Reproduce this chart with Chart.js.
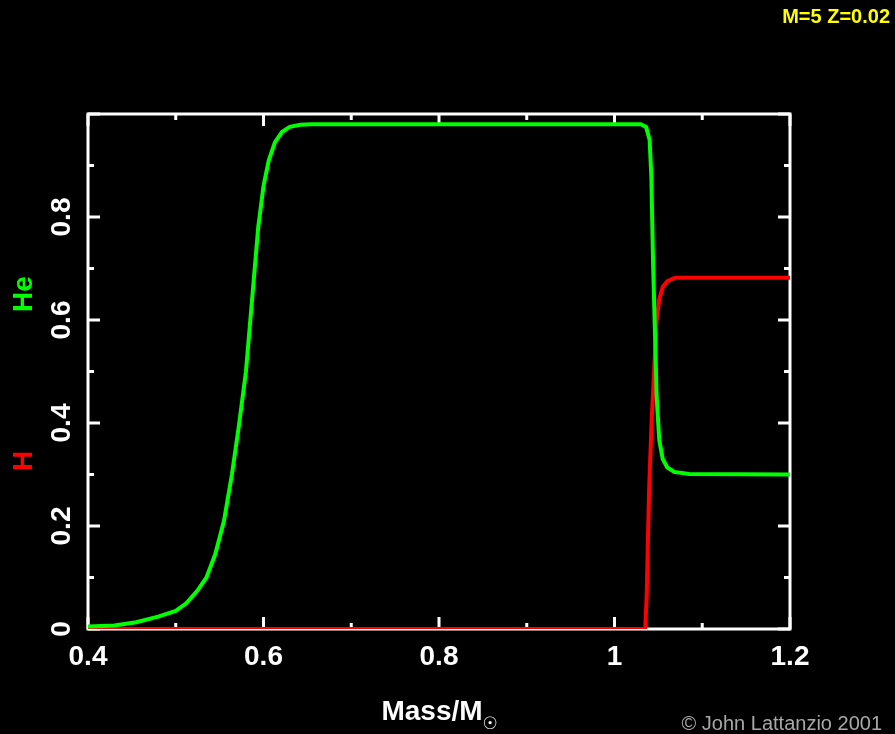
<!DOCTYPE html>
<html>
<head>
<meta charset="utf-8">
<script src="https://cdn.jsdelivr.net/npm/chart.js@4.4.1/dist/chart.umd.min.js"></script>
<style>
  html, body { margin: 0; padding: 0; background: #000; }
  canvas { display: block; }
</style>
</head>
<body>
<canvas id="abundance" width="895" height="734"></canvas>
<script>
// helium profile (green)
const heMass = [0.40, 0.43, 0.455, 0.48, 0.50, 0.512, 0.525, 0.535, 0.545, 0.555, 0.564, 0.572, 0.580, 0.587, 0.594, 0.600, 0.606, 0.613, 0.621, 0.630, 0.642, 0.655, 1.030, 1.036, 1.040, 1.042, 1.044, 1.046, 1.048, 1.051, 1.055, 1.060, 1.068, 1.085, 1.200];
const heFrac = [0.005, 0.007, 0.013, 0.024, 0.035, 0.050, 0.075, 0.100, 0.145, 0.210, 0.300, 0.395, 0.500, 0.640, 0.780, 0.860, 0.910, 0.945, 0.965, 0.975, 0.979, 0.980, 0.980, 0.975, 0.950, 0.878, 0.708, 0.583, 0.452, 0.367, 0.330, 0.314, 0.305, 0.301, 0.300];

// hydrogen profile (red)
const hMass = [0.40, 1.035, 1.0367, 1.0394, 1.0424, 1.0455, 1.048, 1.051, 1.055, 1.060, 1.069, 1.200];
const hFrac = [0.0, 0.0, 0.066, 0.269, 0.407, 0.511, 0.600, 0.640, 0.664, 0.675, 0.682, 0.682];

const xMajorTicks = [0.4, 0.6, 0.8, 1.0, 1.2];
const xMinorTicks = [0.5, 0.7, 0.9, 1.1];
const yMajorTicks = [0, 0.2, 0.4, 0.6, 0.8, 1.0];
const yMinorTicks = [0.1, 0.3, 0.5, 0.7, 0.9];
const yTickLabels = ["0", "0.2", "0.4", "0.6", "0.8"];

const toPoints = (xs, ys) => xs.map((x, i) => ({ x: x, y: ys[i] }));

const FONT = "'Liberation Sans', Arial, sans-serif";

const framePlugin = {
  id: "frame",
  beforeDatasetsDraw(chart) {
    const ctx = chart.ctx;
    const area = chart.chartArea;
    const xs = chart.scales.x;
    const ys = chart.scales.y;
    ctx.save();
    ctx.strokeStyle = "#ffffff";
    ctx.lineWidth = 3;
    ctx.strokeRect(area.left, area.top, area.right - area.left, area.bottom - area.top);

    const tick = (vals, len, horizontal) => {
      vals.forEach((v) => {
        if (horizontal) {
          const px = xs.getPixelForValue(v);
          ctx.beginPath();
          ctx.moveTo(px, area.bottom);
          ctx.lineTo(px, area.bottom - len);
          ctx.moveTo(px, area.top);
          ctx.lineTo(px, area.top + len);
          ctx.stroke();
        } else {
          const py = ys.getPixelForValue(v);
          ctx.beginPath();
          ctx.moveTo(area.left, py);
          ctx.lineTo(area.left + len, py);
          ctx.moveTo(area.right, py);
          ctx.lineTo(area.right - len, py);
          ctx.stroke();
        }
      });
    };
    tick(xMajorTicks, 12, true);
    tick(xMinorTicks, 6, true);
    tick(yMajorTicks, 12, false);
    tick(yMinorTicks, 6, false);
    ctx.restore();
  },
  afterDraw(chart) {
    const ctx = chart.ctx;
    const ys = chart.scales.y;
    const area = chart.chartArea;
    ctx.save();

    // rotated y tick labels
    ctx.fillStyle = "#ffffff";
    ctx.font = "bold 28px " + FONT;
    ctx.textAlign = "center";
    ctx.textBaseline = "middle";
    yTickLabels.forEach((lbl, i) => {
      ctx.save();
      ctx.translate(62, ys.getPixelForValue(yMajorTicks[i]));
      ctx.rotate(-Math.PI / 2);
      ctx.fillText(lbl, 0, 0);
      ctx.restore();
    });

    // y axis titles
    const vText = (txt, x, y, color) => {
      ctx.save();
      ctx.translate(x, y);
      ctx.rotate(-Math.PI / 2);
      ctx.fillStyle = color;
      ctx.fillText(txt, 0, 0);
      ctx.restore();
    };
    vText("He", 24, 294, "#00ff00");
    vText("H", 24, 461, "#ff0000");

    // x axis title with solar subscript
    ctx.textAlign = "left";
    ctx.textBaseline = "alphabetic";
    ctx.font = "bold 28px " + FONT;
    const main = "Mass/M";
    const w = ctx.measureText(main).width;
    const cx = (area.left + area.right) / 2;
    const startX = cx - (w + 14) / 2;
    ctx.fillText(main, startX, 720);
    ctx.font = "bold 17px 'DejaVu Sans', sans-serif";
    ctx.fillText("\u2609", startX + w, 729);

    // header and credit
    ctx.textAlign = "right";
    ctx.textBaseline = "middle";
    ctx.fillStyle = "#ffff00";
    ctx.font = "bold 20px " + FONT;
    ctx.fillText("M=5 Z=0.02", 890, 17);
    ctx.fillStyle = "#a8a8a8";
    ctx.font = "20px " + FONT;
    ctx.fillText("\u00a9 John Lattanzio 2001", 882, 724);
    ctx.restore();
  },
};

const ctx = document.getElementById("abundance").getContext("2d");
new Chart(ctx, {
  type: "line",
  data: {
    datasets: [
      {
        label: "He",
        data: toPoints(heMass, heFrac),
        borderColor: "#00ff00",
        borderWidth: 4,
        pointRadius: 0,
        tension: 0,
        order: 0,
      },
      {
        label: "H",
        data: toPoints(hMass, hFrac),
        borderColor: "#ff0000",
        borderWidth: 4,
        pointRadius: 0,
        tension: 0,
        order: 1,
      },
    ],
  },
  options: {
    responsive: false,
    animation: false,
    layout: { padding: { top: 114, left: 88, right: 105, bottom: 0 } },
    plugins: {
      legend: { display: false },
      tooltip: { enabled: false },
    },
    scales: {
      x: {
        type: "linear",
        min: 0.4,
        max: 1.2,
        grid: { display: false, drawTicks: false },
        border: { display: false },
        ticks: {
          stepSize: 0.2,
          color: "#ffffff",
          padding: 11,
          maxRotation: 0,
          font: { family: FONT, size: 28, weight: "bold" },
          callback: (v) => String(+v.toFixed(1)),
        },
        afterFit: (scale) => {
          scale.height = 105;
        },
      },
      y: {
        type: "linear",
        min: 0,
        max: 1,
        display: false,
      },
    },
  },
  plugins: [framePlugin],
});
</script>
</body>
</html>
